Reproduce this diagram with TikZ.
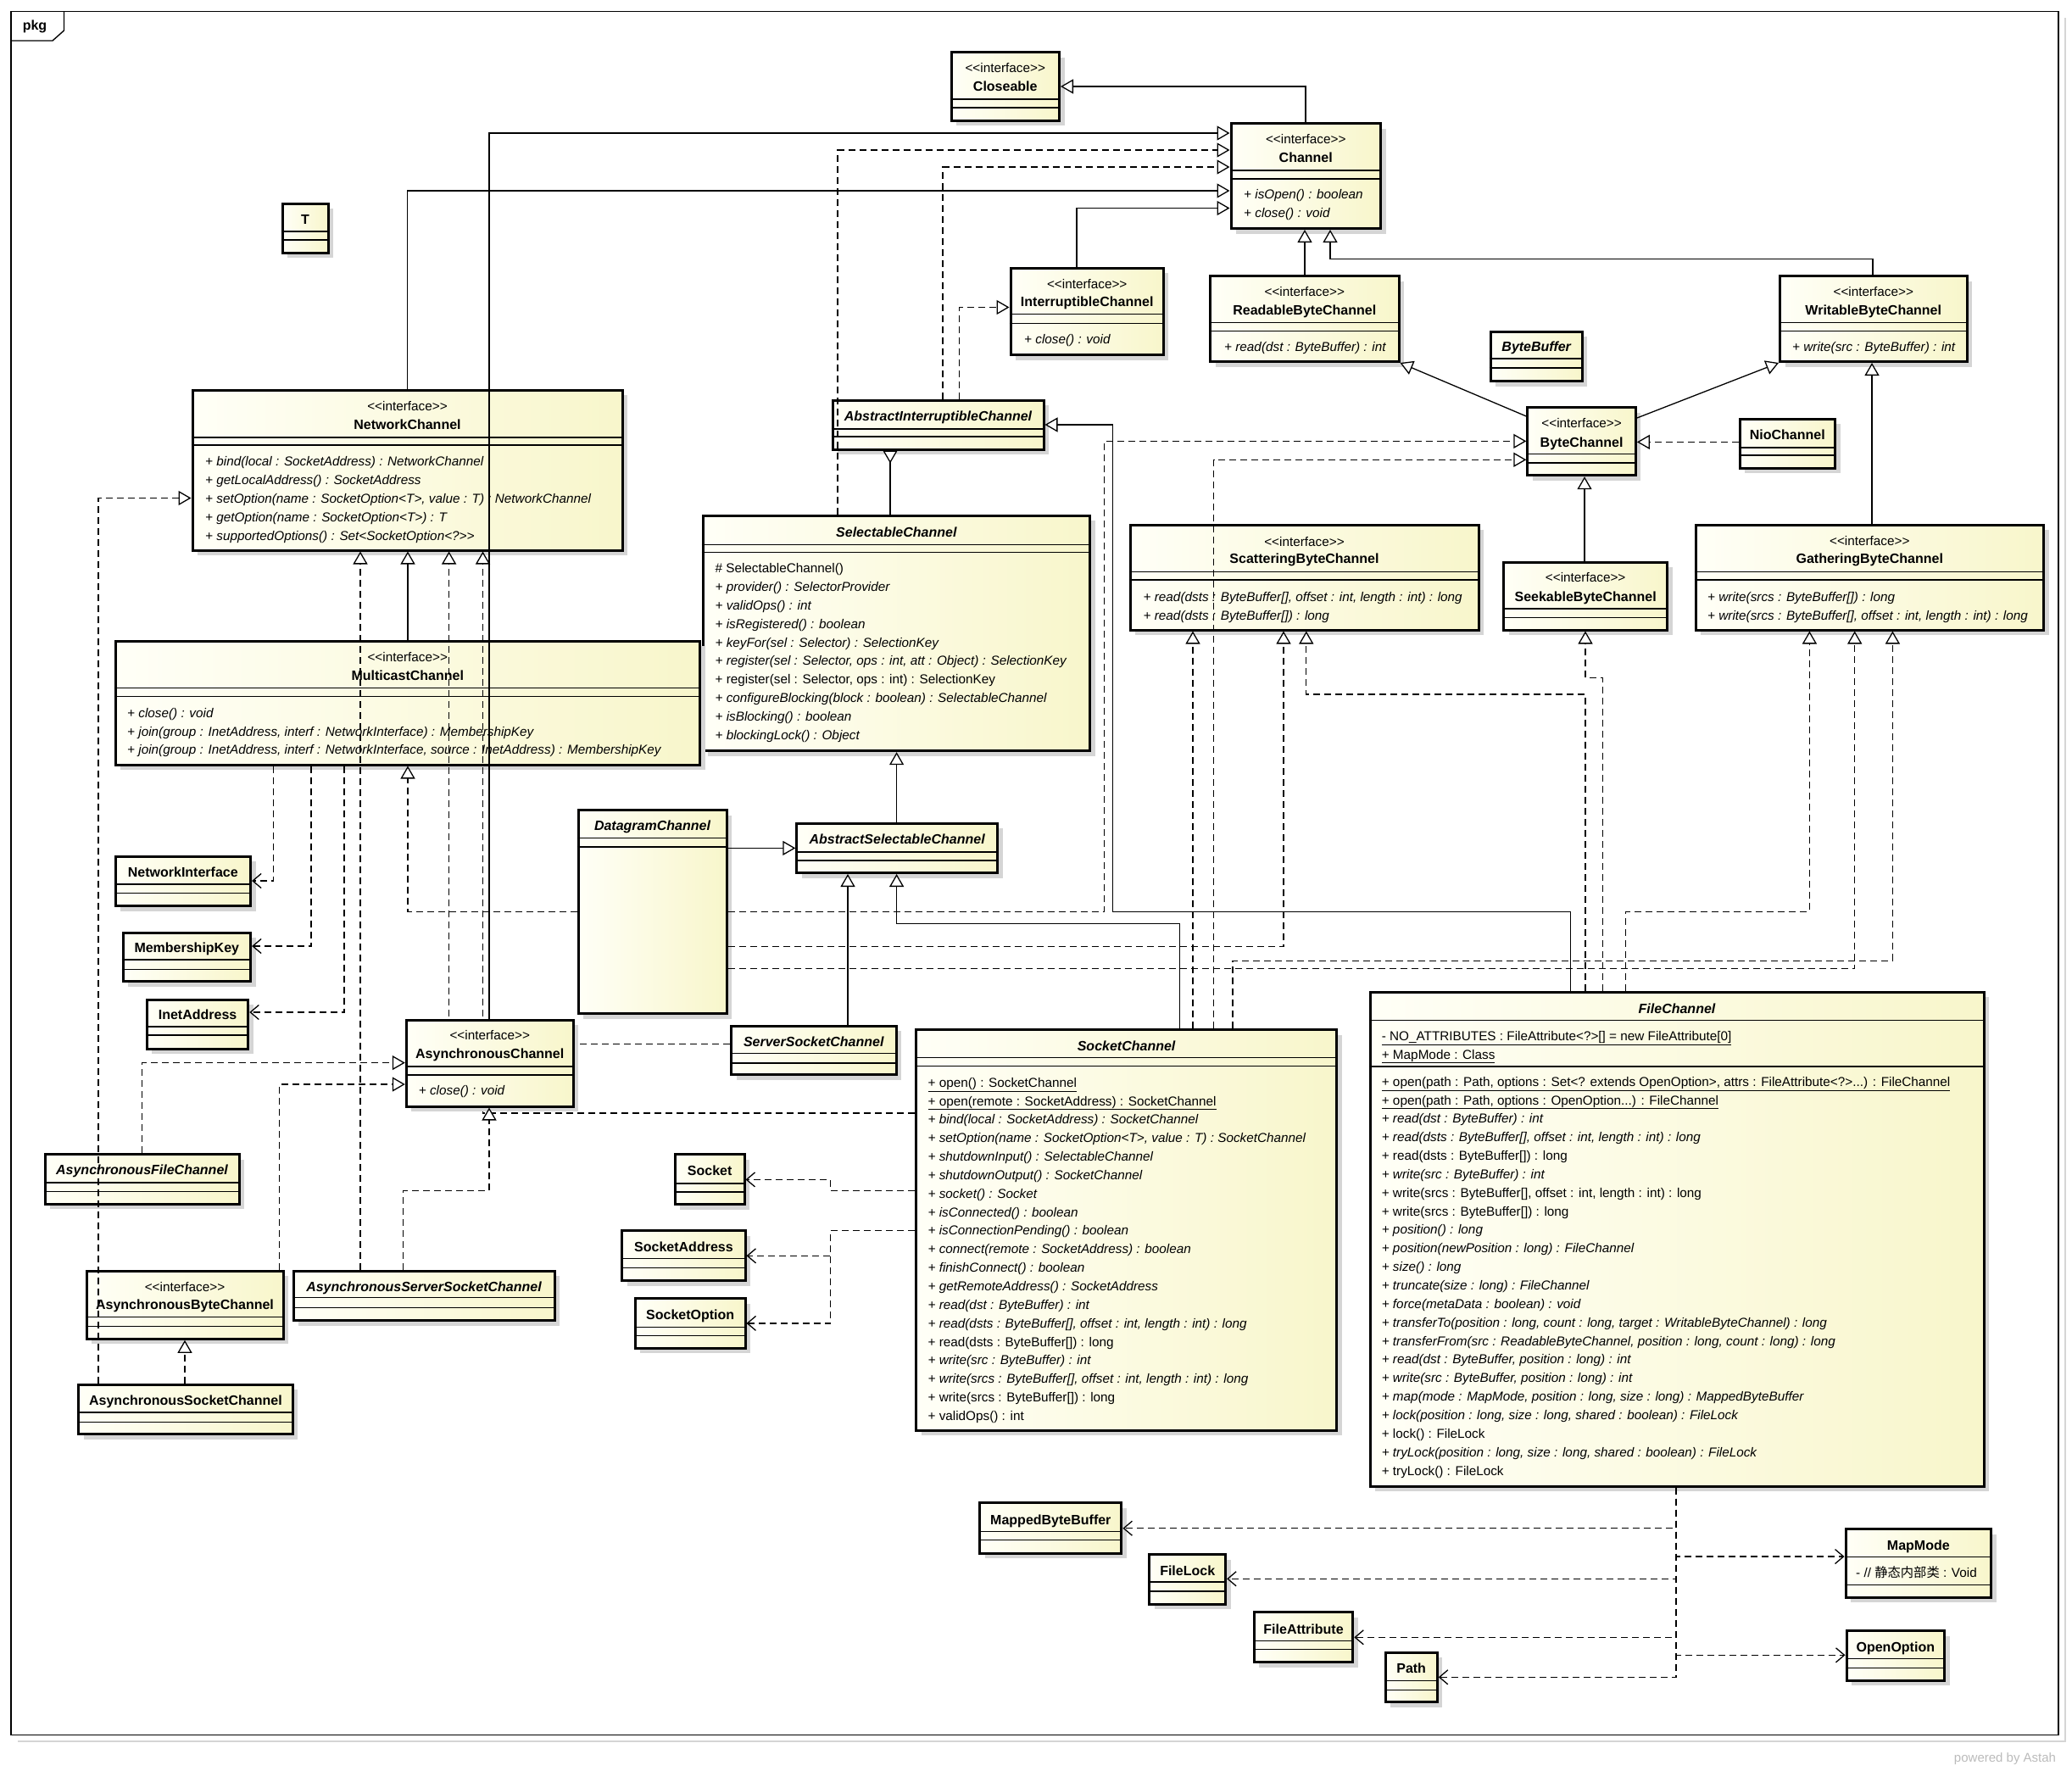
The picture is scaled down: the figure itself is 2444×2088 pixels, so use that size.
\documentclass[tikz,border=0pt]{standalone}
\usepackage{fontspec}
\setmainfont{Liberation Sans}
\newfontfamily\cjkfont{Noto Sans CJK SC}
\usetikzlibrary{arrows.meta,shadows}
\definecolor{boxlight}{HTML}{FFFFF7}
\definecolor{boxyellow}{HTML}{F8F6CB}
\definecolor{boxshadow}{HTML}{D5D5D5}
\definecolor{astahgrey}{HTML}{BBBBBB}
\newcommand{\umlsize}{\fontsize{15.3}{18}\selectfont}
\newcommand{\namesize}{\fontsize{16}{19}\selectfont}
\newcommand{\ster}{\mbox{<}\mbox{<}interface\mbox{>}\mbox{>}}
\newcommand{\dgt}{\mbox{>}\mbox{>}}
\newcommand{\umlclass}[5]{%
  \node[classbox,minimum width={(#4-#2)*1pt},minimum height={(#5-#3)*1pt}] (#1) at ({(#2+#4)/2},{(#3+#5)/2}) {};}
\newcommand{\sepline}[2]{\draw[compart] (#1.west |- 0,#2) -- (#1.east |- 0,#2);}
\newcommand{\cster}[2]{\node[stereo] (#1-st) at (#1.center |- 0,#2) {\ster};}
\newcommand{\cname}[3]{\node[cname] (#1-name) at (#1.center |- 0,#2) {#3};}
\newcommand{\members}[4]{\foreach \txt [count=\k] in {#4} {\node[member] (#1-m\k) at (#2,{#3+(\k-1)*21.85}) {\txt};}}
\tikzset{
  classbox/.style={draw,line width=3pt,left color=boxlight,right color=boxyellow,
    drop shadow={shadow xshift=6pt,shadow yshift=-6pt,fill=boxshadow,opacity=1}},
  compart/.style={line width=1.3pt},
  stereo/.style={font=\umlsize,inner sep=0pt,anchor=mid,yshift=-3pt},
  cname/.style={font=\namesize\bfseries,inner sep=0pt,anchor=mid,yshift=-3pt},
  member/.style={font=\umlsize,inner sep=0pt,anchor=mid west,yshift=-3pt},
  conn/.style={line width=1.3pt},
  generalize/.style={conn,-{Triangle[fill=white,length=15pt,width=17pt]}},
  realize/.style={generalize,dash pattern=on 8pt off 5pt},
  depend/.style={conn,dash pattern=on 8pt off 5pt,-{Straight Barb[length=10pt,width=17pt]}},
}

\begin{document}
\begin{tikzpicture}[x=1pt,y=-1pt]
\useasboundingbox (0,0) rectangle (2444,2088);
\draw[boxshadow,line width=1.5pt] (21,2054) -- (2436,2054) -- (2436,21);
\draw[line width=1.4pt] (13,13.5) rectangle (2428,2046.7);
\draw[line width=1.4pt] (13,48) -- (62,48) -- (75.5,36) -- (75.5,13.5);
\node[font=\namesize\bfseries,inner sep=0pt,anchor=mid] (pkg) at (41,33) {pkg};

\umlclass{close}{1122}{61.6}{1249.5}{142}
\cster{close}{80}\cname{close}{102}{Closeable}
\sepline{close}{117}\sepline{close}{127}

\umlclass{chan}{1452}{145.5}{1628.5}{269.5}
\cster{chan}{164}\cname{chan}{186}{Channel}
\sepline{chan}{201}\sepline{chan}{211}
\members{chan}{1467}{229}{{\itshape + isOpen() : boolean},{\itshape + close() : void}}

\umlclass{tparam}{333}{240}{387}{298}
\cname{tparam}{259}{T}
\sepline{tparam}{273}\sepline{tparam}{283}

\umlclass{intch}{1192}{316}{1372.4}{418.75}
\cster{intch}{335}\cname{intch}{356}{InterruptibleChannel}
\sepline{intch}{370.5}\sepline{intch}{381.7}
\members{intch}{1208}{400}{{\itshape + close() : void}}

\umlclass{rbc}{1427.6}{325.5}{1650}{426.5}
\cster{rbc}{344}\cname{rbc}{366}{ReadableByteChannel}
\sepline{rbc}{380.5}\sepline{rbc}{390.5}
\members{rbc}{1444}{408.5}{{\itshape + read(dst : ByteBuffer) : int}}

\umlclass{wbc}{2099.5}{325.5}{2320}{426.5}
\cster{wbc}{344}\cname{wbc}{366}{WritableByteChannel}
\sepline{wbc}{380.5}\sepline{wbc}{390.5}
\members{wbc}{2114}{408.5}{{\itshape + write(src : ByteBuffer) : int}}

\umlclass{bbuf}{1758}{391}{1866.4}{449.5}
\cname{bbuf}{409}{\itshape ByteBuffer}
\sepline{bbuf}{423}\sepline{bbuf}{434}

\umlclass{netch}{227}{460}{734}{649}
\cster{netch}{479}\cname{netch}{501}{NetworkChannel}
\sepline{netch}{516}\sepline{netch}{525}
\members{netch}{242}{544}{
  {\itshape + bind(local : SocketAddress) : NetworkChannel},
  {\itshape + getLocalAddress() : SocketAddress},
  {\itshape + setOption(name : SocketOption<T>, value : T) : NetworkChannel},
  {\itshape + getOption(name : SocketOption<T>) : T},
  {\itshape + supportedOptions() : Set<SocketOption<?\dgt}}

\umlclass{aic}{982}{472}{1231}{530}
\cname{aic}{491}{\itshape AbstractInterruptibleChannel}
\sepline{aic}{506}\sepline{aic}{515}

\umlclass{bytech}{1801.8}{480.6}{1929.4}{560.7}
\cster{bytech}{499}\cname{bytech}{521.4}{ByteChannel}
\sepline{bytech}{535.7}\sepline{bytech}{546}

\umlclass{nio}{2052}{494}{2164.6}{552}
\cname{nio}{512.8}{NioChannel}
\sepline{nio}{528}\sepline{nio}{537}

\umlclass{selch}{829}{608}{1285.7}{885.7}
\cname{selch}{627.7}{\itshape SelectableChannel}
\sepline{selch}{642.4}\sepline{selch}{651.8}
\members{selch}{843.4}{670}{
  {\# SelectableChannel()},
  {\itshape + provider() : SelectorProvider},
  {\itshape + validOps() : int},
  {\itshape + isRegistered() : boolean},
  {\itshape + keyFor(sel : Selector) : SelectionKey},
  {\itshape + register(sel : Selector, ops : int, att : Object) : SelectionKey},
  {+ register(sel : Selector, ops : int) : SelectionKey},
  {\itshape + configureBlocking(block : boolean) : SelectableChannel},
  {\itshape + isBlocking() : boolean},
  {\itshape + blockingLock() : Object}}

\umlclass{scat}{1333}{619}{1744}{743}
\cster{scat}{638.4}\cname{scat}{658.5}{ScatteringByteChannel}
\sepline{scat}{674.5}\sepline{scat}{684}
\members{scat}{1348.5}{703.6}{
  {\itshape + read(dsts : ByteBuffer[], offset : int, length : int) : long},
  {\itshape + read(dsts : ByteBuffer[]) : long}}

\umlclass{seek}{1773.8}{663}{1966.5}{743}
\cster{seek}{681}\cname{seek}{703.6}{SeekableByteChannel}
\sepline{seek}{718}\sepline{seek}{728.6}

\umlclass{gath}{2000}{619.4}{2410.5}{743}
\cster{gath}{638}\cname{gath}{659}{GatheringByteChannel}
\sepline{gath}{674.5}\sepline{gath}{684}
\members{gath}{2014}{703.6}{
  {\itshape + write(srcs : ByteBuffer[]) : long},
  {\itshape + write(srcs : ByteBuffer[], offset : int, length : int) : long}}

\umlclass{multi}{136}{756}{825.5}{902}
\cster{multi}{775}\cname{multi}{797}{MulticastChannel}
\sepline{multi}{811.6}\sepline{multi}{821.4}
\members{multi}{150}{840.6}{
  {\itshape + close() : void},
  {\itshape + join(group : InetAddress, interf : NetworkInterface) : MembershipKey},
  {\itshape + join(group : InetAddress, interf : NetworkInterface, source : InetAddress) : MembershipKey}}

\umlclass{dgram}{682}{955.8}{857}{1195.5}
\cname{dgram}{973.6}{\itshape DatagramChannel}
\sepline{dgram}{988.8}\sepline{dgram}{999}

\umlclass{ascl}{939.8}{971.4}{1176.5}{1029.5}
\cname{ascl}{990}{\itshape AbstractSelectableChannel}
\sepline{ascl}{1005}\sepline{ascl}{1015}

\umlclass{netif}{136}{1010}{295.6}{1068.75}
\cname{netif}{1029}{NetworkInterface}
\sepline{netif}{1043}\sepline{netif}{1053.6}

\umlclass{mkey}{145}{1100}{295.6}{1157.6}
\cname{mkey}{1118}{MembershipKey}
\sepline{mkey}{1132}\sepline{mkey}{1143.75}

\umlclass{inet}{173.4}{1179}{292.8}{1237}
\cname{inet}{1197}{InetAddress}
\sepline{inet}{1211}\sepline{inet}{1221}

\umlclass{ssc}{862.5}{1210.3}{1057}{1267.7}
\cname{ssc}{1228.7}{\itshape ServerSocketChannel}
\sepline{ssc}{1242.5}\sepline{ssc}{1254}

\umlclass{sockch}{1080.6}{1214.5}{1576.6}{1687.2}
\cname{sockch}{1233.7}{\itshape SocketChannel}
\sepline{sockch}{1247.8}\sepline{sockch}{1257.4}
\members{sockch}{1094.4}{1276.5}{
  {\underline{+ open() : SocketChannel}},
  {\underline{+ open(remote : SocketAddress) : SocketChannel}},
  {\itshape + bind(local : SocketAddress) : SocketChannel},
  {\itshape + setOption(name : SocketOption<T>, value : T) : SocketChannel},
  {\itshape + shutdownInput() : SelectableChannel},
  {\itshape + shutdownOutput() : SocketChannel},
  {\itshape + socket() : Socket},
  {\itshape + isConnected() : boolean},
  {\itshape + isConnectionPending() : boolean},
  {\itshape + connect(remote : SocketAddress) : boolean},
  {\itshape + finishConnect() : boolean},
  {\itshape + getRemoteAddress() : SocketAddress},
  {\itshape + read(dst : ByteBuffer) : int},
  {\itshape + read(dsts : ByteBuffer[], offset : int, length : int) : long},
  {+ read(dsts : ByteBuffer[]) : long},
  {\itshape + write(src : ByteBuffer) : int},
  {\itshape + write(srcs : ByteBuffer[], offset : int, length : int) : long},
  {+ write(srcs : ByteBuffer[]) : long},
  {+ validOps() : int}}

\umlclass{filech}{1616}{1170}{2340}{1753.3}
\cname{filech}{1189.4}{\itshape FileChannel}
\sepline{filech}{1203.6}
\members{filecha}{1629.6}{1221.6}{
  {\underline{- NO\_ATTRIBUTES : FileAttribute<?>[] = new FileAttribute[0]}},
  {\underline{+ MapMode : Class}}}
\sepline{filech}{1258}
\members{filech}{1629.6}{1275.5}{
  {\underline{+ open(path : Path, options : Set<? extends OpenOption>, attrs : FileAttribute<?>...) : FileChannel}},
  {\underline{+ open(path : Path, options : OpenOption...) : FileChannel}},
  {\itshape + read(dst : ByteBuffer) : int},
  {\itshape + read(dsts : ByteBuffer[], offset : int, length : int) : long},
  {+ read(dsts : ByteBuffer[]) : long},
  {\itshape + write(src : ByteBuffer) : int},
  {+ write(srcs : ByteBuffer[], offset : int, length : int) : long},
  {+ write(srcs : ByteBuffer[]) : long},
  {\itshape + position() : long},
  {\itshape + position(newPosition : long) : FileChannel},
  {\itshape + size() : long},
  {\itshape + truncate(size : long) : FileChannel},
  {\itshape + force(metaData : boolean) : void},
  {\itshape + transferTo(position : long, count : long, target : WritableByteChannel) : long},
  {\itshape + transferFrom(src : ReadableByteChannel, position : long, count : long) : long},
  {\itshape + read(dst : ByteBuffer, position : long) : int},
  {\itshape + write(src : ByteBuffer, position : long) : int},
  {\itshape + map(mode : MapMode, position : long, size : long) : MappedByteBuffer},
  {\itshape + lock(position : long, size : long, shared : boolean) : FileLock},
  {+ lock() : FileLock},
  {\itshape + tryLock(position : long, size : long, shared : boolean) : FileLock},
  {+ tryLock() : FileLock}}

\umlclass{afc}{53}{1361.7}{282}{1420}
\cname{afc}{1380}{\itshape AsynchronousFileChannel}
\sepline{afc}{1395}\sepline{afc}{1405.3}

\umlclass{sock}{796.4}{1361.9}{878}{1420.8}
\cname{sock}{1381}{Socket}
\sepline{sock}{1396}\sepline{sock}{1405.9}

\umlclass{saddr}{733.9}{1451.8}{879}{1510.8}
\cname{saddr}{1470.6}{SocketAddress}
\sepline{saddr}{1484.3}\sepline{saddr}{1495.4}

\umlclass{sopt}{749.4}{1531.8}{879}{1590.4}
\cname{sopt}{1551.3}{SocketOption}
\sepline{sopt}{1565.5}\sepline{sopt}{1575.4}

\umlclass{abc}{102}{1499}{334}{1579.3}
\cster{abc}{1517.7}\cname{abc}{1539.3}{AsynchronousByteChannel}
\sepline{abc}{1553.3}\sepline{abc}{1564.3}

\umlclass{assc}{346}{1499}{654}{1557.7}
\cname{assc}{1517.7}{\itshape AsynchronousServerSocketChannel}
\sepline{assc}{1530.7}\sepline{assc}{1542.3}

\umlclass{asc}{92.9}{1633.3}{345}{1691.7}
\cname{asc}{1652.3}{AsynchronousSocketChannel}
\sepline{asc}{1666}\sepline{asc}{1677.3}

\umlclass{mbb}{1155.8}{1772.7}{1322.9}{1832.3}
\cname{mbb}{1792.7}{MappedByteBuffer}
\sepline{mbb}{1806.7}\sepline{mbb}{1816.3}

\umlclass{flock}{1355.8}{1833.7}{1445.6}{1892}
\cname{flock}{1852.7}{FileLock}
\sepline{flock}{1866}\sepline{flock}{1877}

\umlclass{fattr}{1479.3}{1901.7}{1595.8}{1960.7}
\cname{fattr}{1921.7}{FileAttribute}
\sepline{fattr}{1935.7}\sepline{fattr}{1945.7}

\umlclass{fpath}{1634}{1949.3}{1695.3}{2007.7}
\cname{fpath}{1967.7}{Path}
\sepline{fpath}{1982.3}\sepline{fpath}{1993.3}

\umlclass{mapm}{2177}{1803.7}{2348.7}{1884.3}
\cname{mapm}{1823.3}{MapMode}
\sepline{mapm}{1836.7}
\members{mapm}{2189}{1855.3}{{- // {\cjkfont 静态内部类} : Void}}
\sepline{mapm}{1869.3}

\umlclass{oopt}{2178}{1923.7}{2293.6}{1982}
\cname{oopt}{1942.7}{OpenOption}
\sepline{oopt}{1956.7}\sepline{oopt}{1967.3}

\node[font=\fontsize{15}{18}\selectfont,text=astahgrey,inner sep=0pt] (astah) at (2365,2075) {powered by Astah};

\draw[generalize] (1540,0 |- chan.north) |- (close.east |- 0,102);
\draw[realize] (988,0 |- selch.north) |- (chan.west |- 0,177);
\draw[realize] (1112,0 |- aic.north) |- (chan.west |- 0,197);
\draw[generalize] (480.6,0 |- netch.north) |- (chan.west |- 0,225);
\draw[generalize] (1270,0 |- intch.north) |- (chan.west |- 0,245.5);
\draw[generalize] (1539,0 |- rbc.north) -- (1539,0 |- chan.south);
\draw[generalize] (2209,0 |- wbc.north) -- (2209,305.5) -| (1569,0 |- chan.south);
\draw[realize] (1131.6,0 |- aic.north) |- (intch.west |- 0,362.5);
\draw[conn,-{Triangle[fill=white,reversed,length=15pt,width=17pt]}] (1050,0 |- selch.north) -- (1050,0 |- aic.south);
\draw[generalize] (1057.6,0 |- ascl.north) -- (1057.6,0 |- selch.south);
\draw[generalize] (dgram.east |- 0,1000.4) -- (ascl.west |- 0,1000.4);
\draw[generalize] (1000,0 |- ssc.north) -- (1000,0 |- ascl.south);
\draw[generalize] (1391.8,0 |- sockch.north) -- (1391.8,1089.7) -| (1057.6,0 |- ascl.south);
\draw[generalize] (1852.4,0 |- filech.north) -- (1852.4,1075.4) -| (1312.8,501) -- (aic.east |- 0,501);
\draw[generalize] (bytech.west |- 0,491) -- (rbc.south east);
\draw[generalize] (bytech.east |- 0,493) -- (wbc.south west);
\draw[realize] (nio.west |- 0,521.4) -- (bytech.east |- 0,521.4);
\draw[realize] (dgram.east |- 0,1075.4) -| (1302.5,520.4) -- (bytech.west |- 0,520.4);
\draw[realize] (1431.6,0 |- sockch.north) |- (bytech.west |- 0,542.3);
\draw[generalize] (1869,0 |- seek.north) -- (1869,0 |- bytech.south);
\draw[generalize] (2208,0 |- gath.north) -- (2208,0 |- wbc.south);
\draw[generalize] (481,0 |- multi.north) -- (481,0 |- netch.south);
\draw[realize] (dgram.west |- 0,1075.4) -| (481,0 |- multi.south);
\draw[depend] (322.6,0 |- multi.south) |- (netif.east |- 0,1039);
\draw[depend] (367,0 |- multi.south) |- (mkey.east |- 0,1116);
\draw[depend] (406,0 |- multi.south) |- (inet.east |- 0,1194);
\draw[realize] (425,0 |- assc.north) -- (425,0 |- netch.south);
\draw[realize] (ssc.west |- 0,1231.4) -| (529.6,0 |- netch.south);
\draw[realize] (sockch.west |- 0,1313) -| (569.5,0 |- netch.south);
\draw[realize] (116,0 |- asc.north) |- (netch.west |- 0,587.5);
\draw[realize] (218,0 |- asc.north) -- (218,0 |- abc.south);
\draw[realize] (1407,0 |- sockch.north) -- (1407,0 |- scat.south);
\draw[realize] (dgram.east |- 0,1116.5) -| (1514,0 |- scat.south);
\draw[realize] (1870,0 |- filech.north) |- (1540.8,819) -- (1540.8,0 |- scat.south);
\draw[realize] (1890.6,0 |- filech.north) -- (1890.6,799.5) -| (1870,0 |- seek.south);
\draw[realize] (1917.5,0 |- filech.north) |- (2134.4,1075.4) -- (2134.4,0 |- gath.south);
\draw[realize] (dgram.east |- 0,1142.5) -| (2187.7,0 |- gath.south);
\draw[realize] (1454,0 |- sockch.north) |- (2232.4,1133.2) -- (2232.4,0 |- gath.south);
\draw[depend] (sockch.west |- 0,1404.7) -| (979.6,1391.4) -- (sock.east |- 0,1391.4);
\draw[depend] (sockch.west |- 0,1451.4) -| (979.6,1481.3) -- (saddr.east |- 0,1481.3);
\draw[depend] (sockch.west |- 0,1451.4) -| (979.6,1560.9) -- (sopt.east |- 0,1560.9);
\draw[depend] (1977,0 |- filech.south) |- (mbb.east |- 0,1802.7);
\draw[depend] (1977,0 |- filech.south) |- (flock.east |- 0,1862.3);
\draw[depend] (1977,0 |- filech.south) |- (fattr.east |- 0,1931.3);
\draw[depend] (1977,0 |- filech.south) |- (fpath.east |- 0,1978.3);
\draw[depend] (1977,0 |- filech.south) |- (mapm.west |- 0,1836);
\draw[depend] (1977,0 |- filech.south) |- (oopt.west |- 0,1952.3);

\umlclass{achan}{479.3}{1203}{676.2}{1305}
\cster{achan}{1221}\cname{achan}{1243}{AsynchronousChannel}
\sepline{achan}{1258}\sepline{achan}{1268}
\members{achan}{493.7}{1285.7}{{\itshape + close() : void}}

\draw[generalize] (577,0 |- achan.north) |- (chan.west |- 0,157);
\draw[realize] (167.6,0 |- afc.north) |- (achan.west |- 0,1253.6);
\draw[realize] (329.5,0 |- abc.north) |- (achan.west |- 0,1279);
\draw[realize] (475.5,0 |- assc.north) -- (475.5,1404.3) -| (577,0 |- achan.south);
\end{tikzpicture}
\end{document}
